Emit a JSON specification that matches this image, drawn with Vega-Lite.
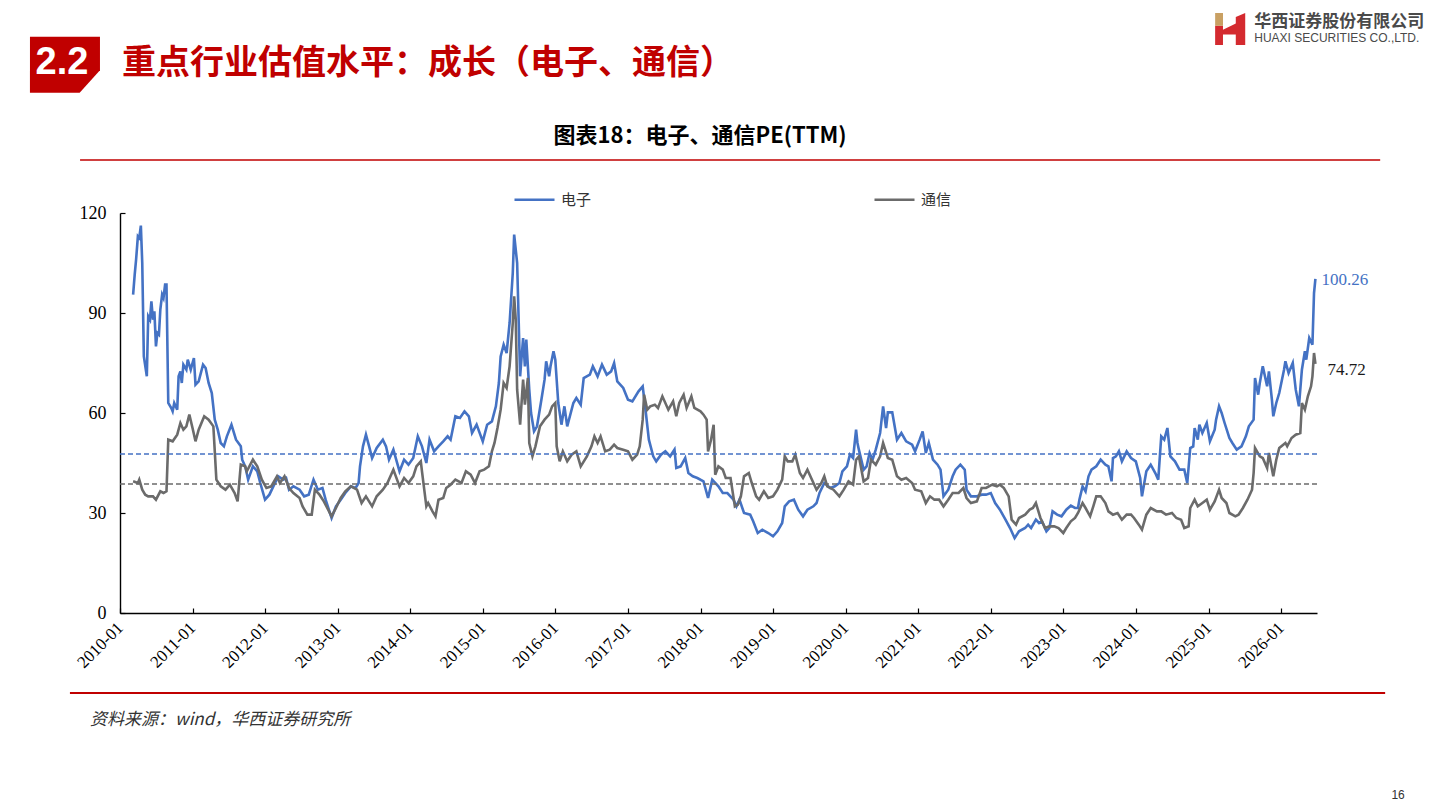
{
  "$schema": "https://vega.github.io/schema/vega-lite/v6.json",
  "width": 1197,
  "height": 400,
  "autosize": {"type": "none"},
  "padding": {"left": 120, "top": 213, "right": 123, "bottom": 197},
  "background": "white",
  "config": {"view": {"stroke": null}},
  "data": {"values": [
    {"date":"2010-03-08","industry":"电子","pe":95.5},{"date":"2010-03-16","industry":"电子","pe":101.5},{"date":"2010-03-23","industry":"电子","pe":106},{"date":"2010-04-01","industry":"电子","pe":113},{"date":"2010-04-08","industry":"电子","pe":112.5},{"date":"2010-04-16","industry":"电子","pe":116.2},{"date":"2010-04-23","industry":"电子","pe":105},{"date":"2010-05-01","industry":"电子","pe":77},{"date":"2010-05-16","industry":"电子","pe":71},{"date":"2010-05-23","industry":"电子","pe":89},{"date":"2010-06-01","industry":"电子","pe":88},{"date":"2010-06-08","industry":"电子","pe":93.5},{"date":"2010-06-16","industry":"电子","pe":88},{"date":"2010-06-23","industry":"电子","pe":90.5},{"date":"2010-07-01","industry":"电子","pe":80},{"date":"2010-07-08","industry":"电子","pe":84},{"date":"2010-07-16","industry":"电子","pe":83.5},{"date":"2010-07-23","industry":"电子","pe":91},{"date":"2010-08-01","industry":"电子","pe":95.5},{"date":"2010-08-08","industry":"电子","pe":94.5},{"date":"2010-08-16","industry":"电子","pe":98.5},{"date":"2010-08-23","industry":"电子","pe":98.5},{"date":"2010-09-01","industry":"电子","pe":63},{"date":"2010-09-16","industry":"电子","pe":61.5},{"date":"2010-09-23","industry":"电子","pe":60.5},{"date":"2010-10-01","industry":"电子","pe":63},{"date":"2010-10-16","industry":"电子","pe":61},{"date":"2010-10-23","industry":"电子","pe":71},{"date":"2010-11-01","industry":"电子","pe":72.5},{"date":"2010-11-08","industry":"电子","pe":69},{"date":"2010-11-16","industry":"电子","pe":74.5},{"date":"2010-12-01","industry":"电子","pe":73},{"date":"2010-12-08","industry":"电子","pe":76},{"date":"2010-12-23","industry":"电子","pe":73},{"date":"2011-01-08","industry":"电子","pe":76.5},{"date":"2011-01-16","industry":"电子","pe":68.5},{"date":"2011-02-01","industry":"电子","pe":69.5},{"date":"2011-02-23","industry":"电子","pe":74.5},{"date":"2011-03-08","industry":"电子","pe":73.5},{"date":"2011-03-23","industry":"电子","pe":69},{"date":"2011-04-08","industry":"电子","pe":66},{"date":"2011-04-23","industry":"电子","pe":58},{"date":"2011-05-08","industry":"电子","pe":55},{"date":"2011-05-23","industry":"电子","pe":51},{"date":"2011-06-08","industry":"电子","pe":50},{"date":"2011-06-23","industry":"电子","pe":53},{"date":"2011-07-16","industry":"电子","pe":56.5},{"date":"2011-08-08","industry":"电子","pe":52},{"date":"2011-09-01","industry":"电子","pe":50},{"date":"2011-09-08","industry":"电子","pe":46},{"date":"2011-09-23","industry":"电子","pe":44},{"date":"2011-10-08","industry":"电子","pe":40},{"date":"2011-11-01","industry":"电子","pe":44},{"date":"2011-11-23","industry":"电子","pe":42.5},{"date":"2011-12-08","industry":"电子","pe":39},{"date":"2012-01-01","industry":"电子","pe":34},{"date":"2012-01-23","industry":"电子","pe":35.5},{"date":"2012-02-16","industry":"电子","pe":38.5},{"date":"2012-03-08","industry":"电子","pe":41},{"date":"2012-04-01","industry":"电子","pe":40},{"date":"2012-04-16","industry":"电子","pe":40.5},{"date":"2012-05-01","industry":"电子","pe":37},{"date":"2012-05-23","industry":"电子","pe":38},{"date":"2012-06-23","industry":"电子","pe":37},{"date":"2012-07-16","industry":"电子","pe":35},{"date":"2012-08-08","industry":"电子","pe":35.5},{"date":"2012-09-01","industry":"电子","pe":40},{"date":"2012-09-23","industry":"电子","pe":37},{"date":"2012-10-16","industry":"电子","pe":37.5},{"date":"2012-11-01","industry":"电子","pe":34},{"date":"2012-12-01","industry":"电子","pe":28.5},{"date":"2012-12-23","industry":"电子","pe":32},{"date":"2013-01-16","industry":"电子","pe":34},{"date":"2013-02-08","industry":"电子","pe":36},{"date":"2013-03-08","industry":"电子","pe":38},{"date":"2013-04-01","industry":"电子","pe":37.5},{"date":"2013-04-16","industry":"电子","pe":39},{"date":"2013-04-23","industry":"电子","pe":44},{"date":"2013-05-08","industry":"电子","pe":50},{"date":"2013-05-23","industry":"电子","pe":53.5},{"date":"2013-06-08","industry":"电子","pe":50},{"date":"2013-06-23","industry":"电子","pe":46.5},{"date":"2013-07-16","industry":"电子","pe":49.5},{"date":"2013-08-16","industry":"电子","pe":52},{"date":"2013-09-01","industry":"电子","pe":50},{"date":"2013-09-16","industry":"电子","pe":46},{"date":"2013-10-08","industry":"电子","pe":49},{"date":"2013-11-08","industry":"电子","pe":42.5},{"date":"2013-12-01","industry":"电子","pe":46},{"date":"2013-12-23","industry":"电子","pe":44.5},{"date":"2014-01-16","industry":"电子","pe":46.5},{"date":"2014-02-08","industry":"电子","pe":53},{"date":"2014-03-01","industry":"电子","pe":50},{"date":"2014-03-23","industry":"电子","pe":45},{"date":"2014-04-08","industry":"电子","pe":52},{"date":"2014-05-01","industry":"电子","pe":48.5},{"date":"2014-05-23","industry":"电子","pe":50},{"date":"2014-06-16","industry":"电子","pe":51.5},{"date":"2014-07-08","industry":"电子","pe":53},{"date":"2014-07-23","industry":"电子","pe":52},{"date":"2014-08-16","industry":"电子","pe":59},{"date":"2014-09-08","industry":"电子","pe":58.5},{"date":"2014-10-01","industry":"电子","pe":60.5},{"date":"2014-10-23","industry":"电子","pe":59},{"date":"2014-11-08","industry":"电子","pe":54},{"date":"2014-12-01","industry":"电子","pe":56.5},{"date":"2015-01-01","industry":"电子","pe":51.5},{"date":"2015-01-23","industry":"电子","pe":56.5},{"date":"2015-02-16","industry":"电子","pe":57.5},{"date":"2015-03-08","industry":"电子","pe":62},{"date":"2015-03-23","industry":"电子","pe":69},{"date":"2015-04-01","industry":"电子","pe":77},{"date":"2015-04-16","industry":"电子","pe":80.5},{"date":"2015-05-01","industry":"电子","pe":78},{"date":"2015-05-16","industry":"电子","pe":87},{"date":"2015-06-01","industry":"电子","pe":102},{"date":"2015-06-08","industry":"电子","pe":113.5},{"date":"2015-06-23","industry":"电子","pe":105},{"date":"2015-07-01","industry":"电子","pe":87},{"date":"2015-07-08","industry":"电子","pe":71},{"date":"2015-07-23","industry":"电子","pe":82.5},{"date":"2015-08-01","industry":"电子","pe":74},{"date":"2015-08-08","industry":"电子","pe":82},{"date":"2015-08-23","industry":"电子","pe":67},{"date":"2015-09-01","industry":"电子","pe":60},{"date":"2015-09-16","industry":"电子","pe":54.5},{"date":"2015-10-01","industry":"电子","pe":56},{"date":"2015-10-23","industry":"电子","pe":64},{"date":"2015-11-08","industry":"电子","pe":70},{"date":"2015-11-16","industry":"电子","pe":75.5},{"date":"2015-12-01","industry":"电子","pe":71},{"date":"2015-12-08","industry":"电子","pe":74},{"date":"2015-12-23","industry":"电子","pe":78.5},{"date":"2016-01-01","industry":"电子","pe":76},{"date":"2016-01-16","industry":"电子","pe":63},{"date":"2016-02-01","industry":"电子","pe":56.5},{"date":"2016-02-16","industry":"电子","pe":62},{"date":"2016-03-01","industry":"电子","pe":56},{"date":"2016-04-01","industry":"电子","pe":63},{"date":"2016-04-16","industry":"电子","pe":64.5},{"date":"2016-05-08","industry":"电子","pe":62.5},{"date":"2016-05-23","industry":"电子","pe":70.5},{"date":"2016-06-23","industry":"电子","pe":71.5},{"date":"2016-07-08","industry":"电子","pe":74},{"date":"2016-08-01","industry":"电子","pe":71},{"date":"2016-08-23","industry":"电子","pe":74.5},{"date":"2016-09-16","industry":"电子","pe":71.5},{"date":"2016-10-08","industry":"电子","pe":72.5},{"date":"2016-10-23","industry":"电子","pe":75},{"date":"2016-11-08","industry":"电子","pe":69.5},{"date":"2016-12-08","industry":"电子","pe":67.5},{"date":"2017-01-01","industry":"电子","pe":64},{"date":"2017-01-23","industry":"电子","pe":63.5},{"date":"2017-02-23","industry":"电子","pe":66.5},{"date":"2017-03-16","industry":"电子","pe":68},{"date":"2017-04-01","industry":"电子","pe":60},{"date":"2017-04-16","industry":"电子","pe":52},{"date":"2017-05-08","industry":"电子","pe":47},{"date":"2017-05-23","industry":"电子","pe":45.5},{"date":"2017-06-16","industry":"电子","pe":47.5},{"date":"2017-07-08","industry":"电子","pe":48.5},{"date":"2017-08-01","industry":"电子","pe":47},{"date":"2017-08-23","industry":"电子","pe":49},{"date":"2017-09-01","industry":"电子","pe":43.5},{"date":"2017-09-23","industry":"电子","pe":44},{"date":"2017-10-16","industry":"电子","pe":46.5},{"date":"2017-11-01","industry":"电子","pe":42},{"date":"2017-11-23","industry":"电子","pe":41},{"date":"2017-12-16","industry":"电子","pe":40.5},{"date":"2018-01-16","industry":"电子","pe":39.5},{"date":"2018-02-08","industry":"电子","pe":34.5},{"date":"2018-03-01","industry":"电子","pe":40},{"date":"2018-04-01","industry":"电子","pe":38},{"date":"2018-04-23","industry":"电子","pe":36},{"date":"2018-05-16","industry":"电子","pe":36},{"date":"2018-06-16","industry":"电子","pe":34},{"date":"2018-07-01","industry":"电子","pe":32},{"date":"2018-07-16","industry":"电子","pe":34},{"date":"2018-08-08","industry":"电子","pe":30},{"date":"2018-09-08","industry":"电子","pe":29.5},{"date":"2018-09-23","industry":"电子","pe":27.5},{"date":"2018-10-16","industry":"电子","pe":24},{"date":"2018-11-08","industry":"电子","pe":25},{"date":"2018-12-08","industry":"电子","pe":24},{"date":"2019-01-01","industry":"电子","pe":23},{"date":"2019-01-23","industry":"电子","pe":24.5},{"date":"2019-02-16","industry":"电子","pe":27},{"date":"2019-03-01","industry":"电子","pe":32},{"date":"2019-03-23","industry":"电子","pe":33.5},{"date":"2019-04-16","industry":"电子","pe":34},{"date":"2019-05-08","industry":"电子","pe":31},{"date":"2019-06-01","industry":"电子","pe":29},{"date":"2019-06-23","industry":"电子","pe":31},{"date":"2019-07-23","industry":"电子","pe":32},{"date":"2019-08-08","industry":"电子","pe":33},{"date":"2019-08-23","industry":"电子","pe":36},{"date":"2019-09-16","industry":"电子","pe":39},{"date":"2019-10-16","industry":"电子","pe":37.5},{"date":"2019-11-08","industry":"电子","pe":38},{"date":"2019-12-01","industry":"电子","pe":39},{"date":"2019-12-16","industry":"电子","pe":42.5},{"date":"2020-01-08","industry":"电子","pe":44},{"date":"2020-01-23","industry":"电子","pe":47.5},{"date":"2020-02-08","industry":"电子","pe":46.5},{"date":"2020-02-23","industry":"电子","pe":55},{"date":"2020-03-01","industry":"电子","pe":51},{"date":"2020-03-08","industry":"电子","pe":49},{"date":"2020-04-01","industry":"电子","pe":43},{"date":"2020-04-16","industry":"电子","pe":44},{"date":"2020-05-01","industry":"电子","pe":48},{"date":"2020-05-16","industry":"电子","pe":46},{"date":"2020-06-01","industry":"电子","pe":49},{"date":"2020-06-23","industry":"电子","pe":54},{"date":"2020-07-08","industry":"电子","pe":62},{"date":"2020-07-23","industry":"电子","pe":55.5},{"date":"2020-08-01","industry":"电子","pe":60.2},{"date":"2020-08-23","industry":"电子","pe":60.2},{"date":"2020-09-16","industry":"电子","pe":52},{"date":"2020-10-08","industry":"电子","pe":54},{"date":"2020-11-01","industry":"电子","pe":51.5},{"date":"2020-12-01","industry":"电子","pe":50.5},{"date":"2020-12-16","industry":"电子","pe":48.5},{"date":"2021-01-08","industry":"电子","pe":52},{"date":"2021-01-23","industry":"电子","pe":54.5},{"date":"2021-02-08","industry":"电子","pe":48},{"date":"2021-02-23","industry":"电子","pe":51},{"date":"2021-03-16","industry":"电子","pe":46},{"date":"2021-04-08","industry":"电子","pe":44.5},{"date":"2021-04-23","industry":"电子","pe":43},{"date":"2021-05-08","industry":"电子","pe":35},{"date":"2021-06-01","industry":"电子","pe":37},{"date":"2021-06-23","industry":"电子","pe":41},{"date":"2021-07-08","industry":"电子","pe":43},{"date":"2021-08-01","industry":"电子","pe":44.5},{"date":"2021-08-23","industry":"电子","pe":43},{"date":"2021-09-01","industry":"电子","pe":37},{"date":"2021-09-23","industry":"电子","pe":35},{"date":"2021-10-23","industry":"电子","pe":35},{"date":"2021-11-16","industry":"电子","pe":35.5},{"date":"2021-12-08","industry":"电子","pe":35.5},{"date":"2022-01-01","industry":"电子","pe":36},{"date":"2022-01-23","industry":"电子","pe":33},{"date":"2022-02-16","industry":"电子","pe":31},{"date":"2022-03-16","industry":"电子","pe":28},{"date":"2022-04-08","industry":"电子","pe":25.5},{"date":"2022-05-01","industry":"电子","pe":22.5},{"date":"2022-05-23","industry":"电子","pe":24.5},{"date":"2022-06-23","industry":"电子","pe":25.5},{"date":"2022-07-08","industry":"电子","pe":26.5},{"date":"2022-07-23","industry":"电子","pe":25.5},{"date":"2022-08-16","industry":"电子","pe":28},{"date":"2022-09-01","industry":"电子","pe":27},{"date":"2022-09-16","industry":"电子","pe":27.5},{"date":"2022-10-08","industry":"电子","pe":24.5},{"date":"2022-10-23","industry":"电子","pe":25.5},{"date":"2022-11-08","industry":"电子","pe":30.5},{"date":"2022-12-01","industry":"电子","pe":29.5},{"date":"2022-12-23","industry":"电子","pe":29},{"date":"2023-01-16","industry":"电子","pe":31},{"date":"2023-02-08","industry":"电子","pe":32.2},{"date":"2023-03-01","industry":"电子","pe":31.5},{"date":"2023-03-16","industry":"电子","pe":31.5},{"date":"2023-03-23","industry":"电子","pe":34},{"date":"2023-04-08","industry":"电子","pe":38},{"date":"2023-04-23","industry":"电子","pe":36.5},{"date":"2023-05-08","industry":"电子","pe":41},{"date":"2023-05-23","industry":"电子","pe":43},{"date":"2023-06-16","industry":"电子","pe":44},{"date":"2023-07-08","industry":"电子","pe":46},{"date":"2023-08-01","industry":"电子","pe":44.5},{"date":"2023-08-16","industry":"电子","pe":44},{"date":"2023-09-01","industry":"电子","pe":39.5},{"date":"2023-09-08","industry":"电子","pe":46.5},{"date":"2023-09-23","industry":"电子","pe":47},{"date":"2023-10-08","industry":"电子","pe":48.5},{"date":"2023-10-23","industry":"电子","pe":45.5},{"date":"2023-11-16","industry":"电子","pe":48.5},{"date":"2023-12-08","industry":"电子","pe":46.5},{"date":"2024-01-01","industry":"电子","pe":45.5},{"date":"2024-01-23","industry":"电子","pe":40.5},{"date":"2024-02-01","industry":"电子","pe":35},{"date":"2024-02-23","industry":"电子","pe":42.5},{"date":"2024-03-16","industry":"电子","pe":44.5},{"date":"2024-04-08","industry":"电子","pe":42},{"date":"2024-04-23","industry":"电子","pe":40},{"date":"2024-05-08","industry":"电子","pe":53},{"date":"2024-05-23","industry":"电子","pe":52},{"date":"2024-06-08","industry":"电子","pe":55.5},{"date":"2024-06-23","industry":"电子","pe":47},{"date":"2024-07-16","industry":"电子","pe":45.5},{"date":"2024-08-08","industry":"电子","pe":43},{"date":"2024-09-01","industry":"电子","pe":43},{"date":"2024-09-16","industry":"电子","pe":39},{"date":"2024-10-01","industry":"电子","pe":49.5},{"date":"2024-10-16","industry":"电子","pe":50},{"date":"2024-10-23","industry":"电子","pe":55.5},{"date":"2024-11-08","industry":"电子","pe":52},{"date":"2024-11-16","industry":"电子","pe":56.5},{"date":"2024-12-01","industry":"电子","pe":54},{"date":"2024-12-23","industry":"电子","pe":57},{"date":"2025-01-08","industry":"电子","pe":51.5},{"date":"2025-02-01","industry":"电子","pe":55},{"date":"2025-02-08","industry":"电子","pe":58},{"date":"2025-02-23","industry":"电子","pe":62},{"date":"2025-03-08","industry":"电子","pe":60},{"date":"2025-03-23","industry":"电子","pe":57},{"date":"2025-04-16","industry":"电子","pe":52.5},{"date":"2025-05-01","industry":"电子","pe":51},{"date":"2025-05-23","industry":"电子","pe":49},{"date":"2025-06-16","industry":"电子","pe":50},{"date":"2025-07-08","industry":"电子","pe":53},{"date":"2025-07-23","industry":"电子","pe":56},{"date":"2025-08-16","industry":"电子","pe":58},{"date":"2025-08-23","industry":"电子","pe":70.5},{"date":"2025-09-08","industry":"电子","pe":65.5},{"date":"2025-09-16","industry":"电子","pe":69},{"date":"2025-10-01","industry":"电子","pe":74},{"date":"2025-10-23","industry":"电子","pe":68},{"date":"2025-11-01","industry":"电子","pe":72.5},{"date":"2025-11-16","industry":"电子","pe":64},{"date":"2025-11-23","industry":"电子","pe":59},{"date":"2025-12-08","industry":"电子","pe":63},{"date":"2025-12-23","industry":"电子","pe":66},{"date":"2026-01-16","industry":"电子","pe":73},{"date":"2026-01-23","industry":"电子","pe":75.5},{"date":"2026-02-08","industry":"电子","pe":72},{"date":"2026-03-01","industry":"电子","pe":75},{"date":"2026-03-16","industry":"电子","pe":67},{"date":"2026-04-01","industry":"电子","pe":62},{"date":"2026-04-16","industry":"电子","pe":73},{"date":"2026-05-01","industry":"电子","pe":78.5},{"date":"2026-05-08","industry":"电子","pe":76},{"date":"2026-05-23","industry":"电子","pe":82.5},{"date":"2026-06-08","industry":"电子","pe":80.5},{"date":"2026-06-16","industry":"电子","pe":96},{"date":"2026-06-23","industry":"电子","pe":100.26},
    {"date":"2010-03-08","industry":"通信","pe":39.5},{"date":"2010-04-01","industry":"通信","pe":39},{"date":"2010-04-08","industry":"通信","pe":40},{"date":"2010-04-23","industry":"通信","pe":37},{"date":"2010-05-08","industry":"通信","pe":35.5},{"date":"2010-05-23","industry":"通信","pe":35},{"date":"2010-06-16","industry":"通信","pe":35},{"date":"2010-07-01","industry":"通信","pe":34},{"date":"2010-07-23","industry":"通信","pe":36.5},{"date":"2010-08-08","industry":"通信","pe":36},{"date":"2010-08-23","industry":"通信","pe":36.5},{"date":"2010-09-01","industry":"通信","pe":52},{"date":"2010-09-23","industry":"通信","pe":51.5},{"date":"2010-10-16","industry":"通信","pe":53.5},{"date":"2010-11-01","industry":"通信","pe":57},{"date":"2010-11-16","industry":"通信","pe":55},{"date":"2010-12-01","industry":"通信","pe":56},{"date":"2010-12-16","industry":"通信","pe":59.5},{"date":"2011-01-01","industry":"通信","pe":55.5},{"date":"2011-01-16","industry":"通信","pe":51.5},{"date":"2011-02-01","industry":"通信","pe":55},{"date":"2011-03-01","industry":"通信","pe":59},{"date":"2011-03-23","industry":"通信","pe":58},{"date":"2011-04-16","industry":"通信","pe":56},{"date":"2011-05-01","industry":"通信","pe":40},{"date":"2011-05-23","industry":"通信","pe":38},{"date":"2011-06-16","industry":"通信","pe":37},{"date":"2011-07-08","industry":"通信","pe":38.5},{"date":"2011-08-01","industry":"通信","pe":36},{"date":"2011-08-16","industry":"通信","pe":33.5},{"date":"2011-09-01","industry":"通信","pe":44.5},{"date":"2011-09-23","industry":"通信","pe":44},{"date":"2011-10-01","industry":"通信","pe":42.5},{"date":"2011-11-01","industry":"通信","pe":46},{"date":"2011-11-23","industry":"通信","pe":44},{"date":"2011-12-16","industry":"通信","pe":40},{"date":"2012-01-08","industry":"通信","pe":37.5},{"date":"2012-02-01","industry":"通信","pe":38},{"date":"2012-03-01","industry":"通信","pe":41},{"date":"2012-03-16","industry":"通信","pe":39},{"date":"2012-04-08","industry":"通信","pe":41},{"date":"2012-05-01","industry":"通信","pe":37.5},{"date":"2012-05-23","industry":"通信","pe":36},{"date":"2012-06-23","industry":"通信","pe":34.5},{"date":"2012-07-08","industry":"通信","pe":32},{"date":"2012-08-01","industry":"通信","pe":29.5},{"date":"2012-08-23","industry":"通信","pe":29.5},{"date":"2012-09-08","industry":"通信","pe":37},{"date":"2012-10-01","industry":"通信","pe":35.5},{"date":"2012-10-23","industry":"通信","pe":33.5},{"date":"2012-12-01","industry":"通信","pe":29},{"date":"2012-12-23","industry":"通信","pe":31.5},{"date":"2013-01-16","industry":"通信","pe":34.5},{"date":"2013-02-08","industry":"通信","pe":36.5},{"date":"2013-03-08","industry":"通信","pe":38},{"date":"2013-04-08","industry":"通信","pe":37},{"date":"2013-05-01","industry":"通信","pe":33},{"date":"2013-05-23","industry":"通信","pe":35},{"date":"2013-06-23","industry":"通信","pe":32},{"date":"2013-07-16","industry":"通信","pe":35},{"date":"2013-08-16","industry":"通信","pe":37},{"date":"2013-09-08","industry":"通信","pe":39},{"date":"2013-10-08","industry":"通信","pe":43},{"date":"2013-11-08","industry":"通信","pe":38},{"date":"2013-12-01","industry":"通信","pe":40.5},{"date":"2013-12-23","industry":"通信","pe":39},{"date":"2014-01-16","industry":"通信","pe":41},{"date":"2014-02-01","industry":"通信","pe":44},{"date":"2014-02-23","industry":"通信","pe":45.5},{"date":"2014-03-01","industry":"通信","pe":42.5},{"date":"2014-03-23","industry":"通信","pe":32},{"date":"2014-04-01","industry":"通信","pe":33},{"date":"2014-04-23","industry":"通信","pe":30.5},{"date":"2014-05-08","industry":"通信","pe":29},{"date":"2014-05-23","industry":"通信","pe":34},{"date":"2014-06-16","industry":"通信","pe":34.5},{"date":"2014-07-01","industry":"通信","pe":37.5},{"date":"2014-07-23","industry":"通信","pe":38.5},{"date":"2014-08-16","industry":"通信","pe":40},{"date":"2014-09-16","industry":"通信","pe":39},{"date":"2014-10-08","industry":"通信","pe":42.5},{"date":"2014-11-01","industry":"通信","pe":41.5},{"date":"2014-11-23","industry":"通信","pe":39},{"date":"2014-12-16","industry":"通信","pe":42.5},{"date":"2015-01-08","industry":"通信","pe":43},{"date":"2015-02-01","industry":"通信","pe":44},{"date":"2015-02-16","industry":"通信","pe":48.5},{"date":"2015-03-01","industry":"通信","pe":51},{"date":"2015-03-16","industry":"通信","pe":55.5},{"date":"2015-04-01","industry":"通信","pe":61},{"date":"2015-04-16","industry":"通信","pe":69},{"date":"2015-05-01","industry":"通信","pe":67.5},{"date":"2015-05-16","industry":"通信","pe":74},{"date":"2015-06-01","industry":"通信","pe":87},{"date":"2015-06-08","industry":"通信","pe":95},{"date":"2015-06-16","industry":"通信","pe":88},{"date":"2015-06-23","industry":"通信","pe":67},{"date":"2015-07-08","industry":"通信","pe":56.5},{"date":"2015-07-23","industry":"通信","pe":70},{"date":"2015-08-01","industry":"通信","pe":62.5},{"date":"2015-08-16","industry":"通信","pe":70.5},{"date":"2015-08-23","industry":"通信","pe":51},{"date":"2015-09-08","industry":"通信","pe":47},{"date":"2015-09-23","industry":"通信","pe":50},{"date":"2015-10-16","industry":"通信","pe":56},{"date":"2015-11-08","industry":"通信","pe":58},{"date":"2015-12-01","industry":"通信","pe":59.5},{"date":"2015-12-16","industry":"通信","pe":62},{"date":"2016-01-01","industry":"通信","pe":63},{"date":"2016-01-08","industry":"通信","pe":50},{"date":"2016-01-23","industry":"通信","pe":45.5},{"date":"2016-02-08","industry":"通信","pe":48.5},{"date":"2016-03-01","industry":"通信","pe":45.5},{"date":"2016-03-23","industry":"通信","pe":47.5},{"date":"2016-04-16","industry":"通信","pe":48.5},{"date":"2016-05-08","industry":"通信","pe":44},{"date":"2016-06-08","industry":"通信","pe":47},{"date":"2016-07-01","industry":"通信","pe":50},{"date":"2016-07-16","industry":"通信","pe":53},{"date":"2016-08-01","industry":"通信","pe":51},{"date":"2016-08-16","industry":"通信","pe":53},{"date":"2016-09-08","industry":"通信","pe":48.5},{"date":"2016-10-01","industry":"通信","pe":49},{"date":"2016-10-23","industry":"通信","pe":50.5},{"date":"2016-11-08","industry":"通信","pe":49.5},{"date":"2016-12-08","industry":"通信","pe":49},{"date":"2017-01-01","industry":"通信","pe":48.5},{"date":"2017-01-23","industry":"通信","pe":46},{"date":"2017-02-16","industry":"通信","pe":47.5},{"date":"2017-03-01","industry":"通信","pe":50},{"date":"2017-03-16","industry":"通信","pe":58},{"date":"2017-03-23","industry":"通信","pe":65.5},{"date":"2017-04-08","industry":"通信","pe":61},{"date":"2017-04-23","industry":"通信","pe":62},{"date":"2017-05-16","industry":"通信","pe":62.5},{"date":"2017-06-01","industry":"通信","pe":61.5},{"date":"2017-06-23","industry":"通信","pe":65},{"date":"2017-07-23","industry":"通信","pe":61},{"date":"2017-08-16","industry":"通信","pe":63.5},{"date":"2017-09-01","industry":"通信","pe":59},{"date":"2017-09-16","industry":"通信","pe":63},{"date":"2017-10-08","industry":"通信","pe":65.5},{"date":"2017-10-23","industry":"通信","pe":61.5},{"date":"2017-11-16","industry":"通信","pe":65},{"date":"2017-12-01","industry":"通信","pe":61.5},{"date":"2018-01-01","industry":"通信","pe":60.5},{"date":"2018-01-16","industry":"通信","pe":59.5},{"date":"2018-02-01","industry":"通信","pe":58},{"date":"2018-02-08","industry":"通信","pe":48.5},{"date":"2018-02-23","industry":"通信","pe":52},{"date":"2018-03-08","industry":"通信","pe":56.5},{"date":"2018-03-16","industry":"通信","pe":41.5},{"date":"2018-04-01","industry":"通信","pe":44},{"date":"2018-04-23","industry":"通信","pe":43},{"date":"2018-05-08","industry":"通信","pe":40.5},{"date":"2018-06-01","industry":"通信","pe":40.5},{"date":"2018-06-23","industry":"通信","pe":32},{"date":"2018-07-08","industry":"通信","pe":32.5},{"date":"2018-07-23","industry":"通信","pe":35},{"date":"2018-08-08","industry":"通信","pe":41},{"date":"2018-09-01","industry":"通信","pe":42},{"date":"2018-09-16","industry":"通信","pe":39},{"date":"2018-10-08","industry":"通信","pe":35},{"date":"2018-10-23","industry":"通信","pe":34},{"date":"2018-11-16","industry":"通信","pe":36.5},{"date":"2018-12-08","industry":"通信","pe":34.5},{"date":"2019-01-01","industry":"通信","pe":35},{"date":"2019-01-23","industry":"通信","pe":37},{"date":"2019-02-16","industry":"通信","pe":40},{"date":"2019-03-01","industry":"通信","pe":47},{"date":"2019-03-16","industry":"通信","pe":45.5},{"date":"2019-04-08","industry":"通信","pe":45.5},{"date":"2019-04-23","industry":"通信","pe":47.5},{"date":"2019-05-16","industry":"通信","pe":42},{"date":"2019-06-01","industry":"通信","pe":40.5},{"date":"2019-06-23","industry":"通信","pe":43},{"date":"2019-07-16","industry":"通信","pe":40},{"date":"2019-08-08","industry":"通信","pe":37},{"date":"2019-09-01","industry":"通信","pe":39},{"date":"2019-09-16","industry":"通信","pe":41},{"date":"2019-10-01","industry":"通信","pe":38},{"date":"2019-11-01","industry":"通信","pe":37},{"date":"2019-12-01","industry":"通信","pe":35},{"date":"2019-12-23","industry":"通信","pe":37},{"date":"2020-01-16","industry":"通信","pe":39.5},{"date":"2020-02-08","industry":"通信","pe":38.5},{"date":"2020-02-23","industry":"通信","pe":46},{"date":"2020-03-08","industry":"通信","pe":47},{"date":"2020-04-01","industry":"通信","pe":39.5},{"date":"2020-04-23","industry":"通信","pe":40.5},{"date":"2020-05-08","industry":"通信","pe":46},{"date":"2020-06-01","industry":"通信","pe":44.5},{"date":"2020-06-23","industry":"通信","pe":47},{"date":"2020-07-08","industry":"通信","pe":51},{"date":"2020-08-01","industry":"通信","pe":46.5},{"date":"2020-08-23","industry":"通信","pe":46},{"date":"2020-09-16","industry":"通信","pe":41},{"date":"2020-10-08","industry":"通信","pe":40},{"date":"2020-11-01","industry":"通信","pe":40.5},{"date":"2020-12-01","industry":"通信","pe":39},{"date":"2020-12-16","industry":"通信","pe":37},{"date":"2021-01-16","industry":"通信","pe":36.5},{"date":"2021-02-08","industry":"通信","pe":33},{"date":"2021-03-01","industry":"通信","pe":35},{"date":"2021-03-23","industry":"通信","pe":34},{"date":"2021-04-16","industry":"通信","pe":34},{"date":"2021-05-08","industry":"通信","pe":32},{"date":"2021-06-01","industry":"通信","pe":34},{"date":"2021-06-23","industry":"通信","pe":36},{"date":"2021-07-23","industry":"通信","pe":36},{"date":"2021-08-16","industry":"通信","pe":37.5},{"date":"2021-09-01","industry":"通信","pe":34.5},{"date":"2021-09-23","industry":"通信","pe":33},{"date":"2021-10-23","industry":"通信","pe":33.5},{"date":"2021-11-16","industry":"通信","pe":37.5},{"date":"2021-12-08","industry":"通信","pe":37.5},{"date":"2022-01-08","industry":"通信","pe":38.5},{"date":"2022-02-01","industry":"通信","pe":38},{"date":"2022-02-16","industry":"通信","pe":38.5},{"date":"2022-03-08","industry":"通信","pe":37.5},{"date":"2022-04-01","industry":"通信","pe":35},{"date":"2022-04-16","industry":"通信","pe":28},{"date":"2022-05-08","industry":"通信","pe":26.5},{"date":"2022-05-23","industry":"通信","pe":28.5},{"date":"2022-06-23","industry":"通信","pe":29.5},{"date":"2022-07-16","industry":"通信","pe":31},{"date":"2022-08-01","industry":"通信","pe":31.5},{"date":"2022-08-16","industry":"通信","pe":33},{"date":"2022-09-08","industry":"通信","pe":28.5},{"date":"2022-10-01","industry":"通信","pe":25.5},{"date":"2022-10-23","industry":"通信","pe":26},{"date":"2022-11-16","industry":"通信","pe":26},{"date":"2022-12-08","industry":"通信","pe":25.5},{"date":"2023-01-01","industry":"通信","pe":24},{"date":"2023-01-16","industry":"通信","pe":25.5},{"date":"2023-02-08","industry":"通信","pe":27.5},{"date":"2023-03-01","industry":"通信","pe":28.5},{"date":"2023-03-16","industry":"通信","pe":30},{"date":"2023-04-08","industry":"通信","pe":33},{"date":"2023-04-23","industry":"通信","pe":31.5},{"date":"2023-05-16","industry":"通信","pe":29},{"date":"2023-06-01","industry":"通信","pe":32},{"date":"2023-06-16","industry":"通信","pe":35},{"date":"2023-07-08","industry":"通信","pe":35},{"date":"2023-08-01","industry":"通信","pe":33},{"date":"2023-08-16","industry":"通信","pe":30.5},{"date":"2023-09-08","industry":"通信","pe":29.5},{"date":"2023-10-01","industry":"通信","pe":30},{"date":"2023-10-23","industry":"通信","pe":28},{"date":"2023-11-16","industry":"通信","pe":29.5},{"date":"2023-12-08","industry":"通信","pe":29.5},{"date":"2023-12-23","industry":"通信","pe":28.5},{"date":"2024-01-16","industry":"通信","pe":26.5},{"date":"2024-02-01","industry":"通信","pe":25},{"date":"2024-02-23","industry":"通信","pe":29.5},{"date":"2024-03-16","industry":"通信","pe":31.5},{"date":"2024-04-16","industry":"通信","pe":30.5},{"date":"2024-05-08","industry":"通信","pe":30.5},{"date":"2024-06-01","industry":"通信","pe":29.5},{"date":"2024-07-01","industry":"通信","pe":30},{"date":"2024-07-23","industry":"通信","pe":28.5},{"date":"2024-08-16","industry":"通信","pe":28},{"date":"2024-09-01","industry":"通信","pe":25.5},{"date":"2024-09-23","industry":"通信","pe":26},{"date":"2024-10-01","industry":"通信","pe":31.5},{"date":"2024-10-23","industry":"通信","pe":34},{"date":"2024-11-08","industry":"通信","pe":32},{"date":"2024-12-01","industry":"通信","pe":33},{"date":"2024-12-23","industry":"通信","pe":34},{"date":"2025-01-08","industry":"通信","pe":31},{"date":"2025-02-01","industry":"通信","pe":33.5},{"date":"2025-02-23","industry":"通信","pe":37},{"date":"2025-03-08","industry":"通信","pe":34.5},{"date":"2025-04-01","industry":"通信","pe":33},{"date":"2025-04-16","industry":"通信","pe":30},{"date":"2025-05-16","industry":"通信","pe":29},{"date":"2025-06-01","industry":"通信","pe":29.5},{"date":"2025-06-23","industry":"通信","pe":31.5},{"date":"2025-07-16","industry":"通信","pe":34},{"date":"2025-08-08","industry":"通信","pe":37},{"date":"2025-08-16","industry":"通信","pe":42},{"date":"2025-08-23","industry":"通信","pe":49.5},{"date":"2025-09-16","industry":"通信","pe":47},{"date":"2025-10-01","industry":"通信","pe":46.5},{"date":"2025-10-23","industry":"通信","pe":43.5},{"date":"2025-11-01","industry":"通信","pe":48},{"date":"2025-11-23","industry":"通信","pe":41},{"date":"2025-12-08","industry":"通信","pe":46},{"date":"2025-12-23","industry":"通信","pe":49.5},{"date":"2026-01-23","industry":"通信","pe":51},{"date":"2026-02-01","industry":"通信","pe":50},{"date":"2026-02-23","industry":"通信","pe":52.5},{"date":"2026-03-16","industry":"通信","pe":53.5},{"date":"2026-04-08","industry":"通信","pe":54},{"date":"2026-04-16","industry":"通信","pe":63},{"date":"2026-05-01","industry":"通信","pe":61},{"date":"2026-05-16","industry":"通信","pe":65},{"date":"2026-06-01","industry":"通信","pe":68},{"date":"2026-06-08","industry":"通信","pe":71},{"date":"2026-06-16","industry":"通信","pe":78},{"date":"2026-06-23","industry":"通信","pe":74.72}
  ]},
  "layer": [
    {
      "mark": {"type": "line", "strokeWidth": 2.6, "interpolate": "linear"},
      "encoding": {
        "x": {"field": "date", "type": "temporal", "title": null,
          "scale": {"domain": [{"year": 2010, "month": 1, "date": 1}, {"year": 2026, "month": 7, "date": 1}]},
          "axis": {"title": null, "format": "%Y-%m", "grid": false,
            "values": [{"year":2010,"month":1,"date":1},{"year":2011,"month":1,"date":1},{"year":2012,"month":1,"date":1},{"year":2013,"month":1,"date":1},{"year":2014,"month":1,"date":1},{"year":2015,"month":1,"date":1},{"year":2016,"month":1,"date":1},{"year":2017,"month":1,"date":1},{"year":2018,"month":1,"date":1},{"year":2019,"month":1,"date":1},{"year":2020,"month":1,"date":1},{"year":2021,"month":1,"date":1},{"year":2022,"month":1,"date":1},{"year":2023,"month":1,"date":1},{"year":2024,"month":1,"date":1},{"year":2025,"month":1,"date":1},{"year":2026,"month":1,"date":1}],
            "labelAngle": -45, "labelAlign": "right", "labelBaseline": "middle",
            "labelFont": "Liberation Serif", "labelFontSize": 17, "labelColor": "#000",
            "labelOverlap": false, "labelBound": false, "labelFlush": false,
            "tickSize": -5, "tickColor": "#000", "tickWidth": 1.2, "labelPadding": 17,
            "domainColor": "#000", "domainWidth": 1.4}
        },
        "y": {"field": "pe", "type": "quantitative", "title": null, "scale": {"domain": [0, 120], "nice": false},
          "axis": {"title": null, "values": [0, 30, 60, 90, 120], "grid": false,
            "labelFont": "Liberation Serif", "labelFontSize": 18, "labelColor": "#000",
            "tickSize": -5, "tickColor": "#000", "tickWidth": 1.2, "labelPadding": 19,
            "domainColor": "#000", "domainWidth": 1.4}
        },
        "color": {"field": "industry", "type": "nominal", "scale": {"domain": ["电子", "通信"], "range": ["#4472C4", "#6B6B6B"]},
          "legend": {"title": null, "orient": "none", "legendX": 393, "legendY": -35, "direction": "horizontal",
            "symbolType": "stroke", "symbolSize": 1600, "symbolStrokeWidth": 2.5,
            "labelFont": "Noto Sans CJK SC", "labelFontSize": 15, "labelColor": "#333",
            "labelOffset": 5, "columnPadding": 277, "padding": 0}
        }
      }
    },
    {
      "data": {"values": [{"industry": "电子", "mean": 47.7}, {"industry": "通信", "mean": 38.7}]},
      "transform": [{"filter": "datum.industry === '电子'"}],
      "mark": {"type": "rule", "strokeDash": [5, 3], "strokeWidth": 1.5, "color": "#4472C4"},
      "encoding": {"y": {"field": "mean", "type": "quantitative", "title": null}}
    },
    {
      "data": {"values": [{"industry": "电子", "mean": 47.7}, {"industry": "通信", "mean": 38.7}]},
      "transform": [{"filter": "datum.industry === '通信'"}],
      "mark": {"type": "rule", "strokeDash": [5, 3], "strokeWidth": 1.5, "color": "#6B6B6B"},
      "encoding": {"y": {"field": "mean", "type": "quantitative", "title": null}}
    },
    {
      "transform": [
        {"window": [{"op": "row_number", "as": "rn"}], "groupby": ["industry"], "sort": [{"field": "date", "order": "descending"}]},
        {"filter": "datum.rn === 1 && datum.industry === '电子'"}
      ],
      "mark": {"type": "text", "align": "left", "baseline": "middle", "dx": 6, "dy": 1, "font": "Liberation Serif", "fontSize": 17, "color": "#4472C4"},
      "encoding": {
        "x": {"field": "date", "type": "temporal", "title": null},
        "y": {"field": "pe", "type": "quantitative", "title": null},
        "text": {"field": "pe", "type": "quantitative", "format": ".2f"}
      }
    },
    {
      "transform": [
        {"window": [{"op": "row_number", "as": "rn"}], "groupby": ["industry"], "sort": [{"field": "date", "order": "descending"}]},
        {"filter": "datum.rn === 1 && datum.industry === '通信'"}
      ],
      "mark": {"type": "text", "align": "left", "baseline": "middle", "dx": 12, "dy": 6, "font": "Liberation Serif", "fontSize": 17, "color": "#1a1a1a"},
      "encoding": {
        "x": {"field": "date", "type": "temporal", "title": null},
        "y": {"field": "pe", "type": "quantitative", "title": null},
        "text": {"field": "pe", "type": "quantitative", "format": ".2f"}
      }
    },
    {
      "data": {"values": [{}]},
      "mark": {"type": "point", "shape": "M-1,-0.8L1,-0.8L1,0.16L0.42,0.8L-1,0.8Z", "size": 4900, "filled": true, "fill": "#C00000", "opacity": 1, "strokeWidth": 0},
      "encoding": {
        "x": {"datum": {"year": 2009, "month": 3, "date": 30}, "type": "temporal", "title": null},
        "y": {"datum": 164.5, "type": "quantitative", "title": null}
      }
    },
    {
      "data": {"values": [{}]},
      "mark": {"type": "text", "align": "center", "baseline": "middle", "font": "Liberation Sans", "fontSize": 38, "fontWeight": "bold", "color": "#FFFFFF"},
      "encoding": {
        "x": {"datum": {"year": 2009, "month": 3, "date": 15}, "type": "temporal", "title": null},
        "y": {"datum": 165, "type": "quantitative", "title": null},
        "text": {"value": "2.2"}
      }
    },
    {
      "data": {"values": [{}]},
      "mark": {"type": "text", "align": "left", "baseline": "middle", "font": "Noto Sans CJK SC", "fontSize": 34, "fontWeight": "bold", "color": "#C00000"},
      "encoding": {
        "x": {"datum": {"year": 2010, "month": 1, "date": 11}, "type": "temporal", "title": null},
        "y": {"datum": 164.7, "type": "quantitative", "title": null},
        "text": {"value": "重点行业估值水平：成长（电子、通信）"}
      }
    },
    {
      "data": {"values": [{}]},
      "mark": {"type": "point", "shape": "M-0.94,-0.2L-0.45,-0.2L-0.45,0.05L0.35,-0.35L0.35,-0.75L0.94,-1L0.94,1L0.35,1L0.35,0.35L-0.45,0.35L-0.45,1L-0.94,1Z", "size": 1024, "filled": true, "fill": "#D42A2F", "opacity": 1, "strokeWidth": 0},
      "encoding": {
        "x": {"datum": {"year": 2025, "month": 4, "date": 20}, "type": "temporal", "title": null},
        "y": {"datum": 175.2, "type": "quantitative", "title": null}
      }
    },
    {
      "data": {"values": [{}]},
      "mark": {"type": "point", "shape": "M-0.94,-1L-0.45,-1L-0.45,-0.2L-0.94,-0.2Z", "size": 1024, "filled": true, "fill": "#C9A063", "opacity": 1, "strokeWidth": 0},
      "encoding": {
        "x": {"datum": {"year": 2025, "month": 4, "date": 20}, "type": "temporal", "title": null},
        "y": {"datum": 175.2, "type": "quantitative", "title": null}
      }
    },
    {
      "data": {"values": [{}]},
      "mark": {"type": "text", "align": "left", "baseline": "middle", "font": "Noto Sans CJK SC", "fontSize": 17, "fontWeight": "bold", "color": "#4A4A4A"},
      "encoding": {
        "x": {"datum": {"year": 2025, "month": 8, "date": 19}, "type": "temporal", "title": null},
        "y": {"datum": 177.4, "type": "quantitative", "title": null},
        "text": {"value": "华西证券股份有限公司"}
      }
    },
    {
      "data": {"values": [{}]},
      "mark": {"type": "text", "align": "left", "baseline": "middle", "font": "Liberation Sans", "fontSize": 12, "color": "#4A4A4A"},
      "encoding": {
        "x": {"datum": {"year": 2025, "month": 8, "date": 19}, "type": "temporal", "title": null},
        "y": {"datum": 172.4, "type": "quantitative", "title": null},
        "text": {"value": "HUAXI SECURITIES CO.,LTD."}
      }
    },
    {
      "data": {"values": [{}]},
      "mark": {"type": "text", "align": "center", "baseline": "middle", "font": "Noto Sans CJK SC", "fontSize": 22, "fontWeight": "bold", "color": "#000000"},
      "encoding": {
        "x": {"datum": {"year": 2017, "month": 12, "date": 30}, "type": "temporal", "title": null},
        "y": {"datum": 143.1, "type": "quantitative", "title": null},
        "text": {"value": "图表18：电子、通信PE(TTM)"}
      }
    },
    {
      "data": {"values": [{}]},
      "mark": {"type": "rule", "color": "#C00000", "strokeWidth": 1.6},
      "encoding": {
        "x": {"datum": {"year": 2009, "month": 6, "date": 14}, "type": "temporal", "title": null},
        "x2": {"datum": {"year": 2027, "month": 5, "date": 15}},
        "y": {"datum": 135.9, "type": "quantitative", "title": null}
      }
    },
    {
      "data": {"values": [{}]},
      "mark": {"type": "rule", "color": "#C00000", "strokeWidth": 2.2},
      "encoding": {
        "x": {"datum": {"year": 2009, "month": 4, "date": 24}, "type": "temporal", "title": null},
        "x2": {"datum": {"year": 2027, "month": 6, "date": 9}},
        "y": {"datum": -24, "type": "quantitative", "title": null}
      }
    },
    {
      "data": {"values": [{}]},
      "mark": {"type": "text", "align": "left", "baseline": "middle", "font": "Noto Sans CJK SC", "fontSize": 17, "fontStyle": "italic", "color": "#333333"},
      "encoding": {
        "x": {"datum": {"year": 2009, "month": 8, "date": 3}, "type": "temporal", "title": null},
        "y": {"datum": -32.1, "type": "quantitative", "title": null},
        "text": {"value": "资料来源：wind，华西证券研究所"}
      }
    },
    {
      "data": {"values": [{}]},
      "mark": {"type": "text", "align": "center", "baseline": "middle", "font": "Liberation Sans", "fontSize": 12, "color": "#333333"},
      "encoding": {
        "x": {"datum": {"year": 2027, "month": 8, "date": 13}, "type": "temporal", "title": null},
        "y": {"datum": -54.6, "type": "quantitative", "title": null},
        "text": {"value": "16"}
      }
    }
  ]
}
